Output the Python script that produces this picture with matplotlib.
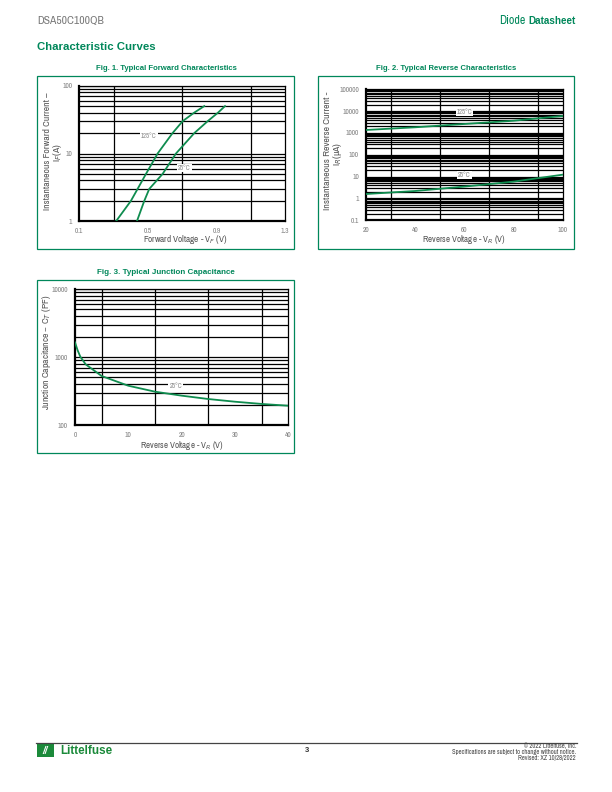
import matplotlib
matplotlib.use("Agg")
import matplotlib.pyplot as plt
from matplotlib import font_manager as fm
from matplotlib.patches import Rectangle
from matplotlib.ticker import FixedLocator, LogLocator, NullFormatter, FixedFormatter

names = sorted({f.name for f in fm.fontManager.ttflist})
narrow = [n for n in names if ('Narrow' in n or 'Condensed' in n)]
FONT = narrow[0] if narrow else "Liberation Sans"
plt.rcParams['font.family'] = [FONT, 'DejaVu Sans']
BOLD = ['Liberation Sans', 'DejaVu Sans']

GREEN = "#00875a"
CURVE = "#0f8c4f"
GRAY = "#555555"

# ---------------- data ----------------
# Fig 1: forward characteristics
vf_125 = [0.314, 0.401, 0.489, 0.557, 0.644, 0.703, 0.770, 0.829]
if_125 = [1, 2, 5, 10, 20, 30, 40, 50]
vf_25 = [0.436, 0.479, 0.508, 0.586, 0.664, 0.771, 0.849, 0.909, 0.950]
if_25 = [1, 2, 3, 5, 10, 20, 30, 40, 50]
fig1_xticks = [0.1, 0.5, 0.9, 1.3]
fig1_xgrid = [0.1, 0.3, 0.5, 0.7, 0.9, 1.1, 1.3]
fig1_yticks = [1, 10, 100]
fig1_ylabels = ["1", "10", "100"]

# Fig 2: reverse characteristics
vr = [20, 40, 60, 80, 100]
ir_125 = [1370, 1820, 2580, 3630, 6000]
ir_25 = [1.6, 2.2, 3.5, 5.9, 12.3]
fig2_xticks = [20, 40, 60, 80, 100]
fig2_xgrid = [20, 30, 40, 50, 60, 70, 80, 90, 100]
fig2_yticks = [0.1, 1, 10, 100, 1000, 10000, 100000]
fig2_ylabels = ["0.1", "1", "10", "100", "1000", "10000", "100000"]

# Fig 3: junction capacitance
vc = [0, 0.5, 1, 2, 5, 10, 15, 20, 25, 30, 35, 40]
ct = [1640, 1250, 1010, 780, 525, 378, 309, 270, 241, 220, 204, 192]
fig3_xticks = [0, 10, 20, 30, 40]
fig3_xgrid = [0, 5, 10, 15, 20, 25, 30, 35, 40]
fig3_yticks = [100, 1000, 10000]
fig3_ylabels = ["100", "1000", "10000"]

W, H = 612, 792
fig = plt.figure(figsize=(W / 100, H / 100), dpi=100)
renderer = fig.canvas.get_renderer()


def fx(x):
    return x / W


def fy(y):
    return 1 - y / H


def fit_text(x, y, s, target, vertical=False, maxsize=10, **kw):
    t = fig.text(fx(x), fy(y), s, fontsize=10, rotation=90 if vertical else 0, **kw)
    bb = t.get_window_extent(renderer)
    size = bb.height if vertical else bb.width
    t.set_fontsize(min(maxsize, 10 * target / size))
    return t


def add_axes(l, t, r, b):
    return fig.add_axes([fx(l), fy(b), (r - l) / W, (b - t) / H])


def frame(l, t, r, b):
    fig.patches.append(Rectangle((fx(l), fy(b)), (r - l) / W, (b - t) / H,
                                 transform=fig.transFigure, fill=False,
                                 edgecolor=GREEN, lw=0.9))


def style(ax, xlim, ylim, xgrid, xticks, yticks, ylabels):
    ax.set_yscale('log')
    ax.set_xlim(*xlim)
    ax.set_ylim(*ylim)
    ax.xaxis.set_major_locator(FixedLocator(xticks))
    ax.xaxis.set_minor_locator(FixedLocator(xgrid))
    ax.yaxis.set_major_locator(FixedLocator(yticks))
    ax.yaxis.set_major_formatter(FixedFormatter(ylabels))
    ax.yaxis.set_minor_locator(LogLocator(base=10, subs=range(2, 10), numticks=20))
    ax.yaxis.set_minor_formatter(NullFormatter())
    ax.grid(True, which='both', axis='y', color='black', lw=0.9)
    ax.grid(True, which='minor', axis='x', color='black', lw=0.9)
    ax.set_axisbelow(True)
    ax.tick_params(which='both', length=0, labelsize=5.3, labelcolor='#808080', pad=5)
    for s in ax.spines.values():
        s.set_color('black')
        s.set_linewidth(0.9)
    ax.spines['left'].set_linewidth(1.6)
    ax.spines['bottom'].set_linewidth(1.6)


def label(ax, x, y, txt):
    ax.text(x, y, txt, fontsize=4.8, color='#888888', ha='center', va='center',
            bbox=dict(boxstyle='square,pad=0.15', fc='white', ec='none'), zorder=5)


LBL = dict(color=GRAY, ha='center', va='center')
TTL = dict(color=GREEN, fontweight='bold', family=BOLD, ha='center', va='center')

# ---------------- header ----------------
fit_text(37, 21, "DSA50C100QB", 66, color='#777777', va='center', ha='left')
fit_text(576, 21, "Datasheet", 47, color=GREEN, fontweight='bold', family=BOLD,
         va='center', ha='right')
fit_text(525, 21, "Diode", 26, color=GREEN, va='center', ha='right')
fit_text(37, 47, "Characteristic Curves", 118, color=GREEN, fontweight='bold', family=BOLD,
         va='center', ha='left')

# ---------------- Fig 1 ----------------
fit_text(166, 68, "Fig. 1. Typical Forward Characteristics", 141, **TTL)
frame(37, 76, 294, 249)
ax1 = add_axes(79.3, 85.7, 285, 221.3)
style(ax1, (0.1, 1.3), (1, 100), fig1_xgrid, fig1_xticks, fig1_yticks, fig1_ylabels)
ax1.plot(vf_125, if_125, color=CURVE, lw=1.3, zorder=3)
ax1.plot(vf_25, if_25, color=CURVE, lw=1.3, zorder=3)
label(ax1, 0.505, 18, "125°C")
label(ax1, 0.713, 6.2, "25°C")
fit_text(185, 240, "Forward Voltage - V$_F$ (V)", 84, **LBL)
fit_text(47, 151.5, "Instantaneous Forward Current –", 117, vertical=True, **LBL)
fig.text(fx(57), fy(152.5), "I$_F$(A)", fontsize=7, rotation=90, **LBL)

# ---------------- Fig 2 ----------------
fit_text(446, 68, "Fig. 2. Typical Reverse Characteristics", 141, **TTL)
frame(317.7, 76, 574, 249)
ax2 = add_axes(366, 89.3, 562.7, 220.3)
style(ax2, (20, 100), (0.1, 100000), fig2_xgrid, fig2_xticks, fig2_yticks, fig2_ylabels)
ax2.plot(vr, ir_125, color=CURVE, lw=1.3, zorder=3)
ax2.plot(vr, ir_25, color=CURVE, lw=1.3, zorder=3)
label(ax2, 60, 8850, "125°C")
label(ax2, 60, 12, "25°C")
fit_text(463.7, 240, "Reverse Voltage - V$_R$ (V)", 83, **LBL)
fit_text(327, 151, "Instantaneous Reverse Current -", 118, vertical=True, **LBL)
fig.text(fx(337), fy(154), "I$_R$(μA)", fontsize=7, rotation=90, **LBL)

# ---------------- Fig 3 ----------------
fit_text(166, 273, "Fig. 3. Typical Junction Capacitance", 137, **TTL)
frame(37, 280, 294, 453)
ax3 = add_axes(75, 289, 288.3, 425)
style(ax3, (0, 40), (100, 10000), fig3_xgrid, fig3_xticks, fig3_yticks, fig3_ylabels)
ax3.plot(vc, ct, color=CURVE, lw=1.3, zorder=3)
label(ax3, 18.9, 375, "25°C")
fit_text(181.7, 445, "Reverse Voltage - V$_R$ (V)", 83, **LBL)
fit_text(46.7, 352, "Junction Capacitance – C$_T$ (PF)", 115, vertical=True, **LBL)

# ---------------- footer ----------------
fig.add_artist(plt.Line2D([fx(36), fx(577)], [fy(742.5), fy(742.5)], color='#444444', lw=0.9,
                          transform=fig.transFigure))
fig.patches.append(Rectangle((fx(37), fy(757)), 17 / W, 13 / H, transform=fig.transFigure,
                             fc="#1b8a3a", ec='none'))
fig.text(fx(45.5), fy(750.5), "//", fontsize=7, color='white', fontweight='bold', family=BOLD,
         ha='center', va='center', style='italic')
fit_text(60, 751, "Littelfuse", 52, color="#1b8a3a", fontweight='bold', family=BOLD,
         ha='left', va='center')
fig.text(fx(307), fy(751), "3", fontsize=5.5, color='#333333', fontweight='bold', family=BOLD,
         ha='center', va='center')
fit_text(576, 746, "© 2022 Littelfuse, Inc.", 52, color='#444444', ha='right', va='center')
fit_text(576, 752, "Specifications are subject to change without notice.", 124,
         color='#444444', ha='right', va='center')
fit_text(576, 758, "Revised: XZ 10/28/2022", 57, color='#444444', ha='right', va='center')

fig.savefig("out.png", dpi=100)
